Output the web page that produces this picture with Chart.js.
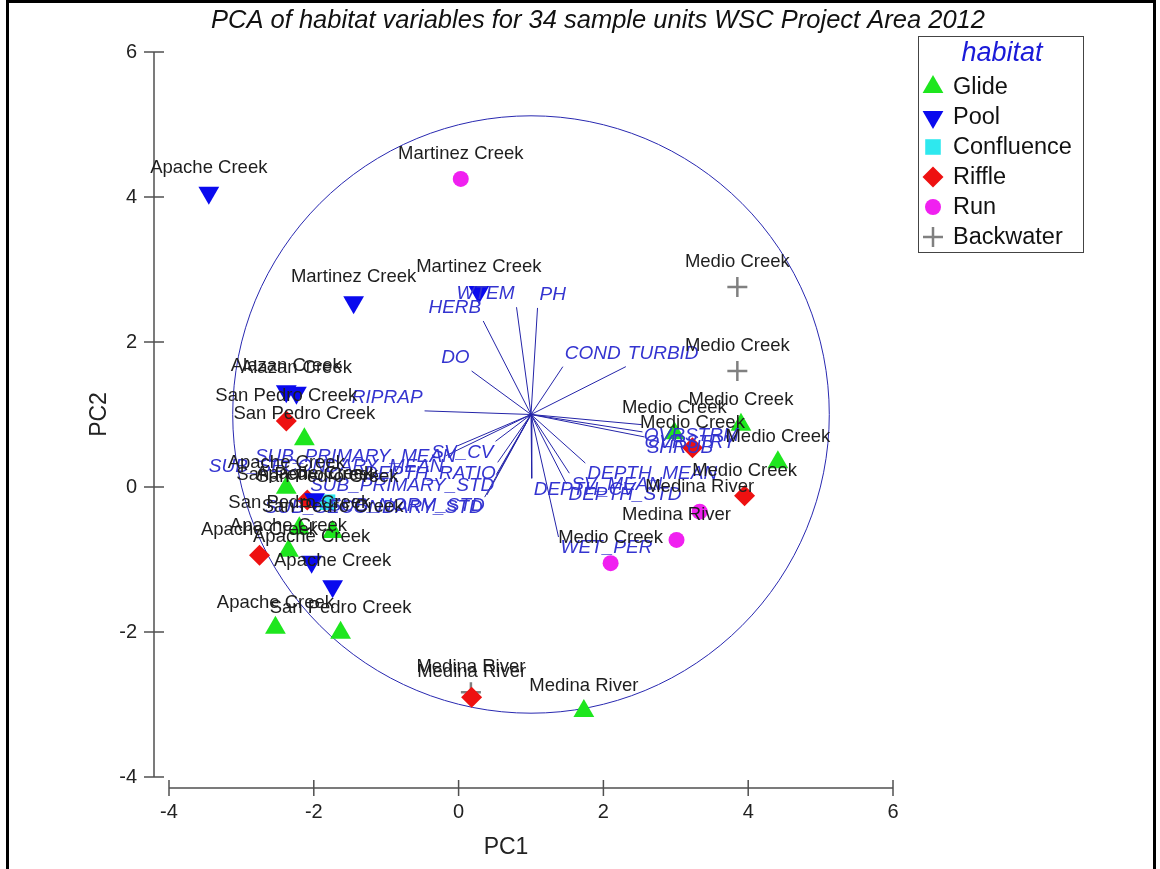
<!DOCTYPE html>
<html lang="en">
<head>
  <meta charset="UTF-8" />
  <title>PCA of habitat variables</title>
  <script src="https://cdn.jsdelivr.net/npm/chart.js"></script>
  <style>
    body { margin: 0; background: #fff; }
    #wrap { width: 1160px; height: 869px; }
  </style>
</head>
<body>
  <div id="wrap"><canvas id="pcaChart"></canvas></div>

  <script>
    // sample units (PC1 / PC2 scores and site name), one set per habitat
    const glidePC1 = [3.90, 4.41, 2.98, -2.13, -2.38, -2.20, -1.74, -2.35, -2.53, -1.63, 1.73];
    const glidePC2 = [0.86, 0.34, 0.74, 0.66, -0.01, -0.57, -0.62, -0.88, -1.94, -2.01, -3.09];
    const glideSites = ['Medio Creek', 'Medio Creek', 'Medio Creek', 'San Pedro Creek', 'Apache Creek', 'San Pedro Creek',
                        'San Pedro Creek', 'Apache Creek', 'Apache Creek', 'San Pedro Creek', 'Medina River'];

    const poolPC1 = [-3.45, -1.45, 0.28, -2.38, -2.24, -1.99, -2.03, -1.74];
    const poolPC2 = [4.06, 2.55, 2.69, 1.32, 1.30, -0.17, -1.03, -1.37];
    const poolSites = ['Apache Creek', 'Martinez Creek', 'Martinez Creek', 'Alazan Creek', 'Alazan Creek',
                       'Apache Creek', 'Apache Creek', 'Apache Creek'];

    const confluencePC1 = [-1.81];
    const confluencePC2 = [-0.21];
    const confluenceSites = ['San Pedro Creek'];

    const rifflePC1 = [-2.38, -2.75, -2.09, 3.23, 3.95, 0.18];
    const rifflePC2 = [0.91, -0.94, -0.18, 0.54, -0.12, -2.90];
    const riffleSites = ['San Pedro Creek', 'Apache Creek', 'San Pedro Creek', 'Medio Creek', 'Medio Creek', 'Medina River'];

    const runPC1 = [0.03, 3.33, 3.01, 2.10];
    const runPC2 = [4.25, -0.34, -0.73, -1.05];
    const runSites = ['Martinez Creek', 'Medina River', 'Medina River', 'Medio Creek'];

    const backwaterPC1 = [3.85, 3.85, 0.17];
    const backwaterPC2 = [2.76, 1.60, -2.83];
    const backwaterSites = ['Medio Creek', 'Medio Creek', 'Medina River'];

    // habitat variable vectors (tips), drawn from the biplot origin
    const varNames = ['PH', 'WTEM', 'HERB', 'DO', 'COND', 'TURBID', 'RIPRAP', 'OVRSTRM', 'OVRSTRY', 'SHRUB',
                      'DEPTH_MEAN', 'SV_MEAN', 'DEPTH_STD', 'WET_PER', 'DEPTH_CV', 'SV_CV', 'SUB_PRIMARY_MEAN',
                      'SUB_SECONDARY_MEAN', 'DEPTH_RATIO', 'SUB_PRIMARY_STD', 'SUB_SECONDARY_STD', 'SUB_NORM_STD'];
    const varPC1 = [1.09, 0.80, 0.34, 0.18, 1.44, 2.31, -0.47, 2.53, 2.54, 2.57,
                    1.75, 1.53, 1.49, 1.38, 1.01, 0.51, -0.01, -0.18, 0.54, 0.52, 0.36, 0.39];
    const varPC2 = [2.47, 2.48, 2.29, 1.60, 1.66, 1.66, 1.05, 0.86, 0.76, 0.69,
                    0.33, 0.19, 0.04, -0.69, 0.12, 0.63, 0.57, 0.43, 0.34, 0.17, -0.14, -0.11];
    const vectorOrigin = [1, 1];
    const circleRadius = 4.12;

    const axisTicks = [-4, -2, 0, 2, 4, 6];

    const FONT = '"Liberation Sans", Arial, sans-serif';

    const groups = [
      { name: 'Glide', pc1: glidePC1, pc2: glidePC2, sites: glideSites, color: '#1ee61e', style: 'triangle', rot: 0, r: 12 },
      { name: 'Pool', pc1: poolPC1, pc2: poolPC2, sites: poolSites, color: '#0a0aee', style: 'triangle', rot: 180, r: 12 },
      { name: 'Confluence', pc1: confluencePC1, pc2: confluencePC2, sites: confluenceSites, color: '#2ee8ee', style: 'rect', rot: 0, r: 11 },
      { name: 'Riffle', pc1: rifflePC1, pc2: rifflePC2, sites: riffleSites, color: '#ee1111', style: 'rectRot', rot: 0, r: 10.5 },
      { name: 'Run', pc1: runPC1, pc2: runPC2, sites: runSites, color: '#f020f0', style: 'circle', rot: 0, r: 8 },
      { name: 'Backwater', pc1: backwaterPC1, pc2: backwaterPC2, sites: backwaterSites, color: '#808080', style: 'cross', rot: 0, r: 10 }
    ];

    const pointSets = groups.map(g => ({
      label: g.name,
      data: g.pc1.map((v, i) => ({ x: v, y: g.pc2[i] })),
      backgroundColor: g.color,
      borderColor: g.color,
      borderWidth: g.style === 'cross' ? 2.5 : 0,
      pointStyle: g.style,
      rotation: g.rot,
      pointRadius: g.r,
      pointHoverRadius: g.r,
      order: 0
    }));

    const vectorSets = varNames.map((name, i) => ({
      label: name,
      data: [{ x: vectorOrigin[0], y: vectorOrigin[1] }, { x: varPC1[i], y: varPC2[i] }],
      showLine: true,
      borderColor: '#2424a8',
      borderWidth: 1,
      pointRadius: 0,
      order: 1
    }));

    // axes sit a little away from the plot area, circle of equilibrium, frame
    const frame = {
      id: 'frame',
      beforeDatasetsDraw(chart) {
        const { ctx, chartArea: a, scales: { x, y } } = chart;
        ctx.save();
        const ax = a.left - 15, ay = a.bottom + 11;
        ctx.strokeStyle = '#505050';
        ctx.lineWidth = 1.5;
        ctx.beginPath();
        ctx.moveTo(ax, y.getPixelForValue(6));
        ctx.lineTo(ax, y.getPixelForValue(-4));
        axisTicks.forEach(t => {
          const p = y.getPixelForValue(t);
          ctx.moveTo(ax - 10, p); ctx.lineTo(ax + 10, p);
        });
        ctx.moveTo(x.getPixelForValue(-4), ay);
        ctx.lineTo(x.getPixelForValue(6), ay);
        axisTicks.forEach(t => {
          const p = x.getPixelForValue(t);
          ctx.moveTo(p, ay - 8); ctx.lineTo(p, ay + 8);
        });
        ctx.stroke();

        const cx = x.getPixelForValue(vectorOrigin[0]);
        const cy = y.getPixelForValue(vectorOrigin[1]);
        const rx = x.getPixelForValue(vectorOrigin[0] + circleRadius) - cx;
        const ry = cy - y.getPixelForValue(vectorOrigin[1] + circleRadius);
        ctx.strokeStyle = '#2828b0';
        ctx.lineWidth = 1;
        ctx.beginPath();
        ctx.ellipse(cx, cy, rx, ry, 0, 0, 2 * Math.PI);
        ctx.stroke();
        ctx.restore();
      },
      afterDraw(chart) {
        const { ctx, chartArea: a } = chart;
        ctx.save();
        ctx.fillStyle = '#222';
        ctx.font = '23px ' + FONT;
        ctx.textAlign = 'center';
        ctx.textBaseline = 'middle';
        ctx.fillText('PC1', (a.left + a.right) / 2 - 25, chart.height - 21);

        ctx.strokeStyle = '#000';
        ctx.lineWidth = 3;
        ctx.strokeRect(7.5, 1.5, chart.width - 13, chart.height + 10);
        ctx.restore();
      }
    };

    const labels = {
      id: 'labels',
      afterDatasetsDraw(chart) {
        const { ctx, scales: { x, y } } = chart;
        ctx.save();
        ctx.textBaseline = 'middle';

        ctx.font = 'italic 19px ' + FONT;
        ctx.fillStyle = '#3434d0';
        varNames.forEach((name, i) => {
          const px = x.getPixelForValue(varPC1[i]);
          const py = y.getPixelForValue(varPC2[i]);
          const right = varPC1[i] > vectorOrigin[0];
          const up = varPC2[i] > vectorOrigin[1];
          ctx.textAlign = right ? 'left' : 'right';
          ctx.fillText(name, px + (right ? 2 : -2), py + (up ? -13 : 11));
        });

        ctx.font = '18.5px ' + FONT;
        ctx.fillStyle = '#1e1e1e';
        ctx.textAlign = 'center';
        groups.forEach(g => {
          g.sites.forEach((site, i) => {
            ctx.fillText(site, x.getPixelForValue(g.pc1[i]), y.getPixelForValue(g.pc2[i]) - 25);
          });
        });
        ctx.restore();
      }
    };

    const habitatLegend = {
      id: 'habitatLegend',
      afterDraw(chart) {
        const ctx = chart.ctx;
        const left = chart.chartArea.right + 25, top = 36, w = 165, h = 216;
        ctx.save();
        ctx.fillStyle = '#fff';
        ctx.fillRect(left, top, w, h);
        ctx.strokeStyle = '#444';
        ctx.lineWidth = 1;
        ctx.strokeRect(left + 0.5, top + 0.5, w, h);

        ctx.textBaseline = 'middle';
        ctx.textAlign = 'center';
        ctx.fillStyle = '#1a1ad8';
        ctx.font = 'italic 27px ' + FONT;
        ctx.fillText('habitat', left + 84, top + 17);

        ctx.textAlign = 'left';
        ctx.font = '23.5px ' + FONT;
        groups.forEach((g, i) => {
          const yy = top + 51 + i * 30;
          ctx.fillStyle = g.color;
          ctx.strokeStyle = g.color;
          ctx.lineWidth = g.style === 'cross' ? 2.5 : 0;
          Chart.helpers.drawPoint(ctx, {
            pointStyle: g.style, rotation: g.rot, radius: g.r, borderWidth: g.style === 'cross' ? 2.5 : 0
          }, left + 15, yy);
          ctx.fillStyle = '#111';
          ctx.fillText(g.name, left + 35, yy + 1);
        });
        ctx.restore();
      }
    };

    const tickFont = { family: FONT, size: 20 };

    new Chart(document.getElementById('pcaChart'), {
      type: 'scatter',
      data: { datasets: [...vectorSets, ...pointSets] },
      options: {
        responsive: true,
        maintainAspectRatio: false,
        animation: false,
        layout: { padding: { left: 36, right: 0, top: 0, bottom: 0 } },
        plugins: {
          legend: { display: false },
          tooltip: { enabled: false },
          title: {
            display: true,
            text: 'PCA of habitat variables for 34 sample units WSC Project Area 2012',
            color: '#111',
            font: { family: FONT, size: 25.5, style: 'italic', weight: 'normal' },
            padding: { top: 6, bottom: 15.4 }
          }
        },
        scales: {
          x: {
            type: 'linear',
            min: -4, max: 6,
            afterFit: s => { s.height = 92; },
            grid: { display: false, drawTicks: false },
            border: { display: false },
            ticks: { stepSize: 2, padding: 23, color: '#222', font: tickFont }
          },
          y: {
            type: 'linear',
            min: -4, max: 6,
            afterFit: s => { s.width = 133; },
            grid: { display: false, drawTicks: false },
            border: { display: false },
            ticks: { stepSize: 2, padding: 32, color: '#222', font: tickFont },
            title: { display: true, text: 'PC2', color: '#222', font: { family: FONT, size: 23 }, padding: { top: 50 } }
          },
          // empty strip on the right that holds the legend box
          side: {
            type: 'linear',
            position: 'right',
            afterFit: s => { s.width = 267; },
            grid: { display: false, drawTicks: false },
            border: { display: false },
            ticks: { display: false }
          }
        }
      },
      plugins: [frame, labels, habitatLegend]
    });
  </script>
</body>
</html>
